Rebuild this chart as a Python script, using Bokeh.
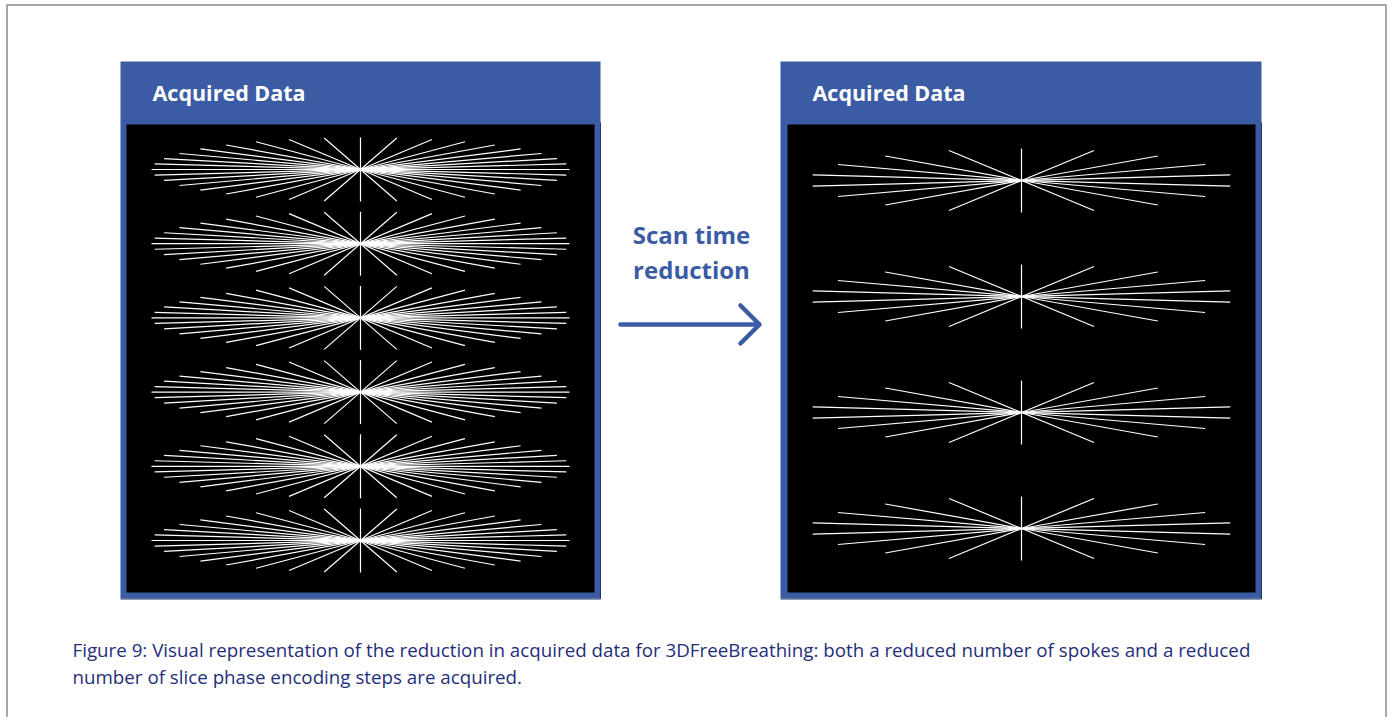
import math
from bokeh.plotting import figure
from bokeh.models import Range1d
from bokeh.embed import file_html
from bokeh.resources import INLINE
from bokeh.core.properties import value

# ---------------- data ----------------
# slice (kz) phase-encoding steps acquired in each panel
left_slices = [1, 2, 3, 4, 5, 6]
right_slices = [1, 2, 3, 4]
# radial spoke angles (degrees) acquired in each slice
left_spoke_angles = [0, 10, 20, 30, 40, 50, 60, 70, 80, 90,
                     100, 110, 120, 130, 140, 150, 160, 170]
right_spoke_angles = [10, 30, 50, 70, 90, 110, 130, 150, 170]
panel_titles = ["Acquired Data", "Acquired Data"]
arrow_label = ["Scan time", "reduction"]
caption_lines = [
    "Figure 9: Visual representation of the reduction in acquired data for 3DFreeBreathing: both a reduced number of spokes and a reduced",
    "number of slice phase encoding steps are acquired.",
]

# ---------------- style / layout ----------------
BLUE = "#3B5BA5"
NAVY = "#1F2E7A"
FONT = "Open Sans"

p = figure(width=1387, height=717, output_backend="svg", toolbar_location=None,
           x_range=Range1d(0, 1387), y_range=Range1d(717, 0),
           min_border=0, outline_line_color=None)
p.axis.visible = False
p.grid.visible = False
p.background_fill_color = "white"
p.border_fill_color = "white"

# outer gray frame
p.line(x=[6.5, 6.5, 1385.5, 1385.5], y=[717, 4.5, 4.5, 717], line_color="#8a8a8a", line_width=1.5)

panels = [
    dict(left=120, right=600, inner_left=126, inner_right=594, cx=360,
         y_first=169, spacing=74.2, R=209, r=32,
         slices=left_slices, angles=left_spoke_angles, title=panel_titles[0], tx=152),
    dict(left=780, right=1261, inner_left=787, inner_right=1255, cx=1021,
         y_first=180, spacing=116, R=212, r=32,
         slices=right_slices, angles=right_spoke_angles, title=panel_titles[1], tx=812),
]

for pn in panels:
    # blue frame with header
    p.quad(left=[pn["left"]], right=[pn["right"]], top=[61], bottom=[598],
           fill_color=BLUE, line_color=None)
    # thin dark shadow edges
    p.line(x=[pn["left"], pn["right"], pn["right"]], y=[598.5, 598.5, 122],
           line_color="#24386e", line_width=1)
    # black k-space area
    p.quad(left=[pn["inner_left"]], right=[pn["inner_right"]], top=[124], bottom=[592],
           fill_color="black", line_color=None)
    p.text(x=[pn["tx"]], y=[91.5], text=[pn["title"]], text_color="white",
           text_font=value(FONT), text_font_style="bold",
           text_font_size=value("21.5px"), text_baseline="middle", text_align="left")

    x0s, y0s, x1s, y1s = [], [], [], []
    for s in pn["slices"]:
        cy = pn["y_first"] + (s - 1) * pn["spacing"]
        for a in pn["angles"]:
            t = math.radians(a)
            dx = pn["R"] * math.cos(t)
            dy = pn["r"] * math.sin(t)
            x0s.append(pn["cx"] - dx); y0s.append(cy + dy)
            x1s.append(pn["cx"] + dx); y1s.append(cy - dy)
    p.segment(x0=x0s, y0=y0s, x1=x1s, y1=y1s, line_color="white", line_width=1.2)

# arrow and its label
p.text(x=[691, 691], y=[233.5, 268.5], text=arrow_label, text_color=BLUE,
       text_font=value(FONT), text_font_style="bold", text_font_size=value("24px"),
       text_baseline="middle", text_align="center")
p.line(x=[620, 758], y=[324, 324], line_color=BLUE, line_width=4.5, line_cap="round")
p.line(x=[740, 759, 740], y=[305, 324, 343], line_color=BLUE, line_width=4.5,
       line_cap="round", line_join="round")

# caption
p.text(x=[72, 72], y=[648.5, 675.5], text=caption_lines, text_color=NAVY,
       text_font=value(FONT), text_font_size=value("18.75px"),
       text_baseline="middle", text_align="left")

open("out.html", "w").write(file_html(p, INLINE))
